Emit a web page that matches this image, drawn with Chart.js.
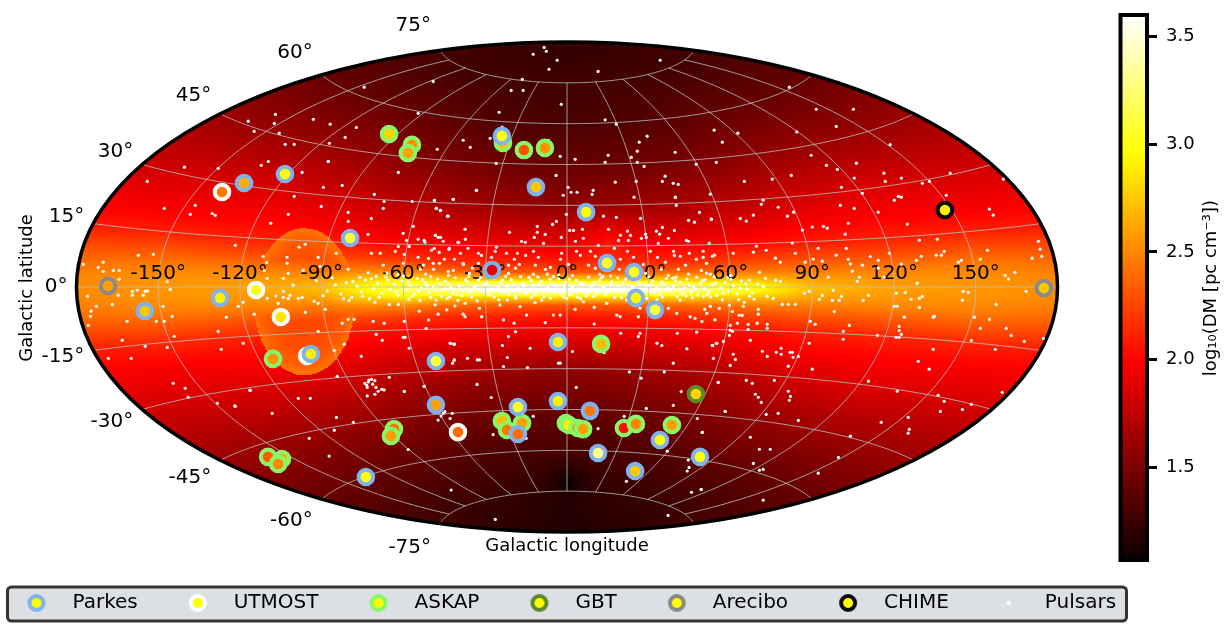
<!DOCTYPE html>
<html>
<head>
  <meta charset="UTF-8" />
  <title>FRB sky map</title>
  <script src="https://cdn.jsdelivr.net/npm/chart.js"></script>
  <style>
    html, body { margin: 0; background: #fff; }
    canvas { display: block; }
  </style>
</head>
<body>
  <canvas id="sky" width="1230" height="628"></canvas>
  <script>
    // positions are in the projected (Aitoff) plane, degrees; third value is log10(DM)
    const parkes = [[-118.5,38.2,2.65],[-103.5,41.5,2.95],[-79.6,18,3.1],[-127.3,-4,2.9],[-154.9,-8.8,2.75],[-94,-24.6,2.9],[-48.1,-27.2,3.1],[-48.1,-43.3,2.6],[-27.5,6.2,1.9],[-11.4,36.7,2.75],[7,27.5,2.95],[14.7,8.8,3.05],[24.6,5.5,3],[25.3,-4,2.93],[32.3,-8.4,3.1],[-3.3,-20.2,2.9],[-23.9,55.5,2.98],[-18,-44.1,3.05],[-3.3,-41.9,2.9],[8.4,-45.5,2.45],[-18,-54,2.4],[11.4,-61,3.3],[34.1,-56.2,3],[48.8,-62.4,2.98],[25,-67.6,2.75],[-73.8,-69.8,3]];
    const utmost = [[-126.6,34.9,2.45],[-114.1,-1.1,3],[-105,-11,2.85],[-95.4,-25.3,3.2],[-40,-53.3,2.4]];
    const askap = [[-65.3,56.2,2.8],[-56.9,52.2,2.55],[-58.4,49.2,2.6],[-23.5,52.9,2.7],[-15.8,50.3,2.3],[-8.1,51.1,2.55],[-107.9,-26.4,2.55],[12.5,-20.9,2.7],[-63.5,-52.2,2.4],[-64.6,-54.7,2.6],[-109.7,-62.4,2.35],[-104.6,-63.2,2.65],[-106,-65,2.5],[-23.9,-49.2,2.7],[-22,-52.5,2.45],[-16.5,-50,2.6],[-0.4,-50,2.8],[0.7,-50.7,2.9],[4,-51.8,2.5],[5.9,-52.2,2.6],[20.9,-51.8,2.05],[25.3,-50.3,2.5],[38.5,-50.7,2.6]];
    const gbt = [[47.3,-39.3,2.8]];
    const arecibo = [[-168.4,0.4,2.6],[175,-0.4,2.75]];
    const chime = [[138.7,28.3,2.9]];
    const pulsars = [
      [81.6,73.4],[91.5,65.3],[105.1,65.3],[98.8,59],[54,57.6],[62.7,56.5],[84.3,57],[57,53.2],[118.6,52.3],[89.6,48.4],[54.8,45.8],[95.2,44.7],[99.2,43.2],[106.2,45.5],[116.3,41.8],[140.6,41.8],[160.1,39.6],[82.3,41],[75.3,39.6],[65.1,38.8],[105.4,40],[116.8,38.8],[122.7,40],[130.4,38.1],[133,38.8],[100.7,36.6],[108.4,34.4],[52.6,34.1],[139.2,33.7],[121.6,33.3],[122.7,33],[120.1,31.9],[72,31.9],[71.3,30.4],[100.3,30],[105.4,28.9],[77.5,29.3],[114.2,27.5],[155,28.6],[156.4,26.4],[83.1,27.5],[80.9,26],[68.4,26.4],[63.6,25.2],[65.8,24.2],[53,24.9],[103.2,23.4],[124.9,23.1],[90,22],[94.1,22.3],[95.5,21.6],[86.4,20.9],[102.1,19.4],[129.3,17.2],[135.9,17.5],[52.2,16.1],[82.7,16.1],[173,16.8],[173.6,13.9],[69.5,15],[92.2,14.2],[102.5,14.2],[154.3,13.5],[68.4,12.8],[73.1,13.5],[83.8,12.4],[118.3,12.4],[138.4,13.1],[135.5,11.7],[137.4,11.7],[130,11.3],[151.7,10.2],[170.7,10.6],[174.2,11.3],[54.1,11.7],[61,12.4],[50,10.9],[76.5,10.6],[90.4,10.2],[98.8,11.7],[111.3,11.2],[128.2,9.8],[144.7,9.8],[143.6,9.1],[93.7,9.5],[103.2,10.2],[78.3,9.1],[87.4,9.1],[114.2,9.8],[122.7,8.4],[108.4,8],[104.7,5.8],[164.4,5.4],[160.8,4.3],[162,2.9],[95.9,3.6],[104,8.5],[114.2,6.9],[76.5,2.5],[78.3,2.1],[72.8,3.2],[70.6,5.4],[66.9,2.5],[107.3,3.6],[106.5,2.1],[116.4,3.6],[128.5,1.4],[51.2,5.1],[50.6,2.6],[72,0.2],
      [168.5,-1.6],[157.5,-6.4],[145.4,-1.6],[147.3,-2],[145.1,-4.9],[129.3,-4.2],[129.3,-7.5],[130.4,-3.4],[126.3,-4.5],[124.1,-2],[120.8,-2.3],[120.1,-7.1],[121.2,-7.1],[123.8,-11.1],[134.8,-10.8],[134.4,-11.1],[149.5,-11.1],[155,-11.9],[151.7,-15.2],[161.2,-15.2],[163,-17.8],[167.8,-20],[174.8,-18.9],[157.2,-22.9],[148.4,-19.6],[134.4,-22.9],[128.9,-27.3],[132.9,-30.2],[121.9,-14.5],[121.9,-16],[122.7,-17.4],[120.8,-18.5],[121.9,-18.5],[113.9,-17.8],[103.6,-14.1],[101.4,-16.3],[101.4,-19.2],[98.1,-9],[108.7,-4.9],[110.6,-3.1],[97.7,-1.2],[100.7,-3.4],[99.9,-4.9],[97.4,-4.9],[92.6,-4.5],[93.7,-3.1],[88.9,-1.6],[87.1,-2.3],[91.1,-13.7],[89.3,-12.6],[88.9,-20.7],[79,-6.4],[81.2,-6.4],[83.8,-6.4],[75.7,-4.2],[73.5,-3.4],[68.7,-4.5],[70.2,-8.2],[70.2,-10],[64.7,-7.1],[65.1,-5.6],[63.2,-10.4],[64.3,-10.4],[60.7,-9],[55.9,-7.8],[52.6,-7.1],[50.5,-8.2],[59.6,-6.7],[62.5,-13.3],[59.9,-14.1],[66.5,-13.7],[69.8,-13.3],[73.5,-13.7],[73.5,-15.2],[66.5,-15.6],[59.9,-15.9],[60.7,-16.3],[59.6,-17.8],[67.3,-19.6],[57.4,-20],[54.8,-20.7],[53.3,-21.4],[71.7,-23.6],[78.6,-22.5],[76.8,-24],[78.6,-24.7],[81.9,-24],[82.7,-24],[73.5,-25.5],[83,-25.8],[84.9,-25.5],[61,-24.7],[61.8,-26.6],[53.7,-26.2],[81.2,-29.1],[90,-30.2],[59.9,-28.8],[76.1,-34.3],[65.8,-34.3],[68,-35.4],[55.5,-35],[110.6,-34.6],[121.2,-38.3],[136.2,-39.8],[138.4,-42],[148.4,-43.1],[159.7,-38.7],[145.1,-45],[137,-45.7],[69.1,-39.4],[70.2,-40.5],[71.3,-42.4],[81.2,-38.3],[82,-40.2],[81.6,-41.6],[58.1,-45.7],[73.1,-46.8],[77.5,-46.4],[84.9,-49],[115.3,-49.7],[125.2,-47.9],[125.6,-52.3],[125.2,-53.7],[104,-54.8],[49.7,-53.4],[67.3,-55.2],[70.6,-59.6],[74.6,-59.6],[99.6,-62.6],[68.4,-64.8],[72,-67],[70.6,-67.3],[92.2,-68.4],[49.3,-74.3],[72,-78.3],
      [-140.4,44],[-112.2,44.7],[-109.6,46.1],[-87.6,46.1],[-154,38.8],[-128,43.6],[-97.2,42.1],[-61.9,42.1],[-89.4,36.6],[-82.5,37.3],[-100.1,33.3],[-70.7,34],[-67.1,31.4],[-56.8,31.4],[-48.7,31.8],[-41.8,32.2],[-136.4,30],[-147.8,28.9],[-138.2,26.7],[-130.2,27],[-129.1,26.3],[-102.3,26.7],[-90.2,29.6],[-80.3,27.4],[-67.4,28.9],[-48,28.9],[-46.5,28.1],[-71.8,25.2],[-108.7,23.4],[-80.3,24.1],[-56.4,22.3],[-43.6,26],[-37.4,21.2],[-60.1,19.7],[-73,19.3],[-48.3,19],[-54.6,17.5],[-47.3,18.2],[-52.4,17.1],[-45.4,16.8],[-40,16.4],[-58.9,17.1],[-121.7,15.3],[-61.9,14.9],[-57.9,14.9],[-48.7,14.2],[-43.2,14.2],[-36.3,14.2],[-98.3,14.6],[-96.1,15.7],[-71.8,12.4],[-68.5,12.4],[-63,13.1],[-59.7,12],[-54.6,10.9],[-84.7,12.4],[-111.5,11.3],[-102.7,10.9],[-157.3,11.6],[-151.8,12],[-91.3,10.9],[-177.5,8.3],[-170.2,9.1],[-172,7.2],[-166.5,6.1],[-170.2,5.7],[-164.3,6.1],[-164.3,2.8],[-146.7,2],[-110.2,9],[-102.7,8.7],[-111.1,6.1],[-110,3.2],[-104.1,3.2],[-102.3,5],[-96.8,6.1],[-90.6,7.6],[-80.3,6.5],[-67.4,8],[-60.1,8.7],[-49.1,8.7],[-38.1,8.7],[-53.8,6.5],[-43.6,5.7],
      [-176,-3.4],[-174.6,-8.9],[-174.9,-10.8],[-172.7,-7.1],[-175.7,-14.1],[-164.7,-3],[-166.9,-6.4],[-159.5,-1.6],[-159.5,-3],[-157.7,-1.2],[-155.5,-3],[-154.8,-1.6],[-154,-1.5],[-145.6,-0.9],[-148.2,-7.1],[-144.9,-10.8],[-147.8,-12.6],[-150.7,-12.6],[-161.4,-12.6],[-163.2,-19.6],[-144.1,-18.1],[-154.8,-21.8],[-146.7,-22.2],[-168.3,-26.2],[-159.9,-26.2],[-128,-16.3],[-125,-11.1],[-120.6,-7.1],[-118.8,-5.6],[-114.8,-10],[-118.8,-20.7],[-126.9,-22.9],[-144.5,-35.4],[-140.1,-37.2],[-139,-40.5],[-116.2,-38],[-128.3,-42.7],[-121.7,-43.8],[-98.6,-40.9],[-94.2,-40.9],[-110,-4.2],[-106,-6],[-106.8,-3.3],[-104.1,-3.8],[-102.3,-4.2],[-101.6,-3.1],[-98.6,-4.2],[-97.2,-3.8],[-104.1,-1.6],[-100.5,0.7],[-96,-9.3],[-92.8,-5.3],[-91.3,-6],[-88.7,-8.2],[-91.3,-16.3],[-85.4,-23.3],[-81.7,-21],[-82.5,-13.3],[-80.3,-11.9],[-78.1,-11.9],[-75.5,-25.5],[-70,-17.4],[-67.8,-19.6],[-60.1,-18.5],[-59.4,-18.5],[-57.9,-22.5],[-71.1,-12.6],[-67.1,-13.3],[-59.7,-12.6],[-51.7,-15.2],[-42.9,-20.7],[-41.4,-21],[-41.4,-26.9],[-47.3,-10],[-54.2,-8.9],[-61.9,-6.4],[-65.2,-6.4],[-70.5,-5.6],[-38.1,-10],[-84.3,-32.8],[-59.7,-38.3],[-65.2,-33.2],[-52.4,-36.5],
      [-71.7,-33.9],[-70.5,-34.4],[-72.9,-34.9],[-73.5,-36.1],[-71.3,-35.7],[-73.3,-36.9],[-70.1,-36.9],[-69.3,-38.3],[-68,-37.6],[-67.1,-37.8],[-73.3,-40],[-70.5,-39.4],[-72.7,-34.2],[-74.2,-35.4],
      [-8.4,88],[-12.4,85.5],[-7.6,86.6],[-3.6,83.3],[34.2,83.3],[-6.6,80],[11.4,79.2],[-16.4,76.3],[-20.5,72.2],[-16.1,72.2],[-74.4,73.4],[-49.1,75.5],[-2.1,67.1],[-24.9,64.2],[-54.6,63.8],[-107,63.4],[-93.1,61.6],[-117,60.9],[-86.9,59.8],[-107.4,60.1],[-77.3,58.6],[-114.8,57.2],[-105.6,56.5],[-81.4,55],[-87.2,52.8],[-103.4,52.4],[-100.1,52.4],[-47.6,50.6],[-38.1,53.9],[-35.5,51.3],[-28.2,54.6],[-23.8,58.7],[-6.8,53.9],[-87.6,46.2],[-26,45.4],[-2.5,48],[3,46.9],[14,61.4],[18.1,59.8],[26.5,53.2],[29.4,55.4],[25.8,49.9],[15.1,48.4],[23.6,47.6],[39.7,49.5],[14,45.8],[25.8,45.8],[28.3,44.3],[47.4,45.1],[-4,41],[36,40.7],[35,38.8],[39,38.1],[40.8,37.7],[17.7,38.5],[25.4,38.8],[-33.3,35.5],[0.4,36.6],[1.5,34.8],[3.7,34.8],[9.6,35.5],[9.2,34],[-1.4,33.7],[24.6,33],[39.7,33],
      [-48.6,31.8],[-41.7,32.2],[-33.2,35.5],[39.8,32.9],[40.1,30],[13.4,26],[18.1,25.6],[27,25.2],[35,21.9],[44.6,24.5],[46.8,23.8],[48.6,27.4],[53,24.9],[-47.9,28.9],[-46.4,28.2],[-43.9,26],[-0.2,26.7],[-3.9,24.1],[-5.3,23],[-10.9,22.3],[-10.9,20.1],[-21.1,20.1],[-8,19.3],[1,20.8],[2.4,20.8],[5.7,21.2],[15.2,21.2],[22.2,20.5],[23.3,19],[19.6,19],[32.8,20.5],[34,19.4],[39.4,20.8],[3.1,16.8],[-2.1,18.2],[-16.7,16.8],[-15.3,16.4],[-8.6,16],[-12,18.2],[-39.8,16.4],[-37.3,17.5],[-48.3,19],[-46.4,18.2],[-52.1,16.4],[27.3,17.9],[28.8,19.4],[29.1,18.2],[37.2,17.9],[43.8,17.1],[44.6,16.8],[6,17.9],[11.5,15.3],[22.5,17.1],[18.9,17.1],[33.5,16],
      [-46.9,12.7],[-49.7,13.5],[-43.3,13.8],[-39.1,12.4],[-32.5,12.4],[-25.9,14.6],[-26.3,13.1],[-22.2,12.4],[-18.2,12.4],[-12.3,13.1],[-2,12.4],[3.5,13.1],[8.6,13.1],[17.4,14.2],[22.2,13.1],[30.6,13.1],[39.1,13.1],[44.9,12.4],[50,13.1],[-50.8,10.5],[-45,10.2],[-41.3,10.2],[-31.4,11.6],[-27.7,10.9],[-19.3,10.2],[-15.2,11.6],[-10.5,10.9],[-2.4,10.2],[4.9,11.6],[10.4,11.3],[19.6,10.2],[24.4,10.9],[33.2,10.9],[39.4,11.6],[41.6,11.3],[47.5,10.2],[53.4,11.3],[-52.7,8],[-46.8,8.7],[-38,8.3],[-32.5,8.7],[-21.5,8],[-17.5,8.3],[-11.6,8],[-6.1,7.2],[0.5,8.3],[7.9,8],[19.2,6.5],[28,8.3],[36.1,9.1],[43.5,8],[51.2,8.7],[-49,6.5],[-41.7,6.1],[-34.7,6.9],[-18.9,6.9],[-7.9,6.5],[10.4,6.9],[34.6,6.5],[40.9,6.5],[49.3,6.1],[-51.9,4.7],[-43.5,4.3],[-35.8,5],[-25.5,4.7],[-21.5,5],[-12.3,4.7],[-7.2,4.7],[7.9,3.6],[28.8,5],[37.2,4.3],[44.6,4.7],[52.6,4.7],
      [-48.4,-6.6],[-41.1,-7],[-37.4,-6],[-32.1,-7.8],[-24.6,-6.6],[-21.9,-4.8],[-17.2,-7.2],[-11.7,-5.7],[-5,-10.3],[3,-8.2],[10,-7.5],[18.3,-10.3],[26.2,-10.9],[34.2,-10.3],[40.3,-9.7],[47,-11.5],[51.3,-9.7],[54.3,-12.1],[-50.8,-12.1],[-44.1,-8.4],[-37.4,-10.9],[-31.3,-10.9],[-23.3,-12.1],[-19.4,-13.3],[-14.8,-10.3],[-8,-13.1],[-2.5,-10.3],[10,-13.6],[19.5,-10.9],[26.8,-7.8],[30.5,-6.6],[37.2,-7.8],[45.2,-10.9],[49.5,-12.7],[-9.3,-4.8],[-0.1,-4.2],[6,-5.4],[14.6,-6],[21.9,-4.8],[29.3,-4.2],[41.5,-4.8],[50,-3.5],
      [-21.5,-18.2],[-18.9,-16.4],[-23.7,-21.5],[-13.5,-22.5],[2,-23.7],[19.7,-17],[26.2,-18.2],[26.8,-17],[33,-20.7],[34.8,-21.5],[44,-22.7],[40.5,-17],[47.6,-16.6],[53.5,-21.5],[55,-20.7],[-42.6,-20.7],[-41.3,-21],[-36.5,-26.2],[-32.9,-26.8],[-32.1,-26.8],[-21.9,-25.9],[-23.3,-29.2],[-14.5,-29.6],[-3.1,-28],[-2.5,-28],[13.6,-24.1],[22.9,-31.2],[27.2,-33.5],[35.7,-31.2],[39,-28],[-42,-28],[-41.3,-26.8],
      [-116.4,-37.9],[-121.9,-43.7],[-108.2,-46.4],[-84.6,-47.9],[-78.4,-49.7],[-85.4,-52.6],[-94.6,-55.6],[-87.3,-62.1],[-58.3,-59.7],[-42.5,-74.6],[-26.3,-85.4],[37.1,-83.9],[45.7,-75.4],[49.2,-74.4],[21.8,-71.4],[44.1,-67.6],[44.8,-66.3],[44.5,-63.6],[36.8,-60.3],[49.6,-53.4],[47.8,-48.3],[39,-43.5],[41.9,-38.4],[29.1,-44.6],[21,-47.5],[11.4,-52],[-12.4,-47.5],[-27.1,-54.2],[-15,-55.6],[3.4,-36.9],[55.5,-35.1],[58,-45.7],[-27.8,-40.6],[-33,-35.8],[-52.4,-36.5],[-59.7,-38.4],[-46.2,-47.4],[-44.8,-45.8],[-42.1,-46.4],[-47.3,-48.9],[-42.9,-48.3],[-45.4,-46.4],
      [-88,-1.5],[-85,0.8],[-83,-2.6],[-81,1.6],[-79,-3.8],[-77,0.4],[-75.5,-1.8],[-74,2.6],[-72.5,-4.4],[-71,-0.6],[-69.5,1.4],[-68,-2.2],[-66.5,3.6],[-65,-0.9],[-63.5,1],[-62,-3.1],[-60.5,2.3],[-59,-1.2],[-57.5,0.7],[-56,-2.6],[-55,3.1],[-53.5,-0.5],[-52,1.7],[-50.5,-1.9],[-49,0.3],[-47.5,2.9],[-46,-3.4],[-45,-0.8],[-43.5,1.2],[-42,-2.1],[-41,3.4],[-39.5,0.5],[-38,-1.3],[-36.5,1.9],[-35,-3.7],[-34,-0.2],[-32.5,2.6],[-31,-1.6],[-30,0.9],[-28.5,-2.9],[-27,3.2],[-26,-0.7],[-24.5,1.5],[-23,-1.9],[-22,0.4],[-20.5,2.7],[-19,-3.2],[-18,-0.4],[-16.5,1.3],[-15,-2.4],[-14,3.6],[-12.5,0.6],[-11,-1.1],[-9.5,2.1],[-8.5,-3.5],[-7,-0.3],[-5.5,1.1],[-4.5,-2],[-3,3],[-1.5,-0.9],[-0.5,1.8],[1,-2.8],[2,0.2],[3.5,2.4],[4.5,-1.4],[6,0.8],[7,-3.3],[8.5,-0.6],[10,1.6],[11,-2.2],[12.5,3.3],[13.5,-0.1],[15,-1.7],[16.5,2],[17.5,-3.9],[19,0.5],[20,-1],[21.5,2.8],[22.5,-2.6],[24,0.1],[25,-0.8],[26.5,1.4],[27.5,-3],[29,0.7],[30.5,-1.5],[31.5,2.2],[33,-0.3],[34,-2.7],[35.5,1],[36.5,3.1],[38,-1.2],[39,0.4],[40.5,-3.6],[41.5,1.8],[43,-0.6],[44,2.9],[45.5,-1.8],[46.5,0.2],[48,-2.9],[49,1.3],[50.5,-0.7],[52,-1.9],[53.5,0.9],[55,-3.1],[56.5,-0.4],[58,1.6],[59.5,-1.4],[61,0.6],[62.5,-2.5],[64,2.3],[66,-0.8],[68,-2],[70,1.1],
      [-80,-5],[-76,3.5],[-73,5.2],[-70,3.9],[-66,5.1],[-62,4.6],[-58,-4.6],[-54,-5],[-50,3.8],[-48,-4.8],[-44,-4.2],[-40,-4.9],[-36,3.9],[-33,-5.1],[-29,4],[-25,-4.7],[-17,3.8],[-13,-3.9],[-6,-4.1],[-3,4.5],[2,4.2],[5,-4.3],[12,4.6],[16,4.1],[20,-3.9],[25,4],[33,-4.6],[40,3.6],[46,-4],[54,3.7],[57,-4.7],[60,4.2],[63,-4.6],[67,-3.4],
      [-58.2,1.9],[-54.4,-1.4],[-51.3,0.6],[-48.1,-1.1],[-44.7,2.2],[-42.6,-0.3],[-40.4,-2.8],[-37.2,2.7],[-35.6,-1.9],[-33.1,0.7],[-29.4,1.8],[-27.8,-1.2],[-25.2,0.3],[-23.6,2.4],[-21.3,-2.7],[-19.7,1],[-17.4,-1.6],[-15.8,0.4],[-13.2,2.5],[-11.7,-2.9],[-10.3,0.9],[-8.1,-1.4],[-6.2,2.8],[-4,0.6],[-2.2,-2.3],[-0.9,0.4],[0.8,2.9],[2.7,-1.1],[5.2,1.4],[7.7,-1.9],[9.3,0.5],[11.8,2.3],[14.2,-2.8],[15.9,0.9],[17.8,-0.9],[20.6,1.7],[23.2,-1.7],[25.8,2.6],[28.1,-1.1],[30,0.6],[32.2,-2.1],[34.8,1.9],[37.1,-0.5],[39.8,2.3],[42.3,-2.4],[44.8,0.7],[47.2,-0.9],[49.8,2.4],[51.4,-2.9],[54.6,1.5],[57.3,-2],[60.1,2.8],[63.4,-0.6],[65.6,1.2],[-92,2.3],[-89.5,-3.2],[-86.2,3.4],[-82,-4.3],[-78.6,2],[-75,-3.4],[-71.8,3.1],[-68.9,-3.7],[-65.7,2.5],[-62.8,-1.7],[-60,4],[-57,-3.4],[-53,2.7],[-50,-3.8],[-46.8,1.3],[-43,-3.6],[-38.6,-3.1],[-31.7,3.5],[-26.8,-3.7],[-22.6,3.9],[-18.8,-4.1],[-10.7,3.7],[-5,3.8],[-1.4,-3.6],[3.8,-3.8],[9.8,-3.5],[13.2,3.9],[18.6,3.4],[23.9,-3.4],[30,3.7],[35,-3.7],[38.8,3.2],[43.7,-3.3],[47.6,3.6],[52.7,-3.6],[58.9,3.4]
    ];

    // dispersion measure map: log10(DM) read on a lon/lat grid, rows north to south
    const heatLons = [-180,-150,-120,-90,-75,-60,-45,-30,-15,0,15,30,45,60,75,90,120,150,180];
    const heatLats = [90,75,60,45,30,20,15,10,6,3,1,0,-1,-3,-6,-10,-15,-20,-30,-45,-60,-71,-78,-90];
    const heatDM = [
      [1.22,1.22,1.22,1.22,1.22,1.22,1.22,1.22,1.22,1.22,1.22,1.22,1.22,1.22,1.22,1.22,1.22,1.22,1.22],
      [1.30,1.28,1.28,1.28,1.28,1.28,1.28,1.27,1.27,1.27,1.27,1.27,1.28,1.28,1.28,1.28,1.28,1.28,1.30],
      [1.42,1.42,1.42,1.40,1.38,1.36,1.34,1.33,1.32,1.32,1.32,1.33,1.34,1.36,1.38,1.40,1.42,1.42,1.42],
      [1.62,1.62,1.62,1.58,1.54,1.50,1.48,1.45,1.43,1.42,1.43,1.45,1.48,1.50,1.54,1.58,1.62,1.62,1.62],
      [1.82,1.85,1.87,1.82,1.75,1.72,1.66,1.63,1.60,1.58,1.62,1.63,1.66,1.72,1.75,1.82,1.87,1.85,1.82],
      [1.98,2.00,2.02,2.00,1.95,1.90,1.86,1.85,1.83,1.82,1.98,1.86,1.86,1.90,1.95,2.00,2.02,2.00,1.98],
      [2.08,2.13,2.12,2.10,2.05,2.02,2.00,1.97,1.95,1.93,2.10,1.98,2.00,2.02,2.05,2.10,2.12,2.13,2.08],
      [2.28,2.33,2.30,2.28,2.25,2.20,2.15,2.12,2.10,2.08,2.16,2.12,2.15,2.20,2.25,2.28,2.30,2.33,2.28],
      [2.42,2.48,2.48,2.45,2.50,2.50,2.40,2.36,2.33,2.32,2.33,2.36,2.38,2.42,2.45,2.45,2.48,2.48,2.42],
      [2.50,2.54,2.56,2.60,2.78,2.90,2.82,2.82,2.85,2.85,2.85,2.82,2.80,2.76,2.70,2.60,2.56,2.54,2.50],
      [2.52,2.56,2.58,2.68,2.92,3.12,3.25,3.45,3.52,3.55,3.52,3.45,3.25,3.05,2.88,2.68,2.58,2.56,2.52],
      [2.52,2.56,2.58,2.70,2.95,3.20,3.45,3.58,3.60,3.60,3.60,3.58,3.40,3.10,2.88,2.72,2.60,2.56,2.52],
      [2.52,2.56,2.58,2.68,2.92,3.12,3.25,3.45,3.52,3.55,3.52,3.45,3.25,3.05,2.88,2.68,2.58,2.56,2.52],
      [2.50,2.54,2.56,2.60,2.78,2.90,2.82,2.82,2.85,2.85,2.85,2.82,2.80,2.76,2.70,2.60,2.56,2.54,2.50],
      [2.42,2.48,2.48,2.45,2.50,2.50,2.40,2.36,2.33,2.32,2.33,2.36,2.38,2.42,2.45,2.45,2.48,2.48,2.42],
      [2.28,2.33,2.30,2.28,2.25,2.20,2.15,2.12,2.10,2.08,2.10,2.12,2.15,2.20,2.25,2.28,2.30,2.33,2.28],
      [2.08,2.13,2.12,2.10,2.05,2.02,2.00,1.97,1.95,1.95,1.95,1.97,2.00,2.02,2.05,2.10,2.12,2.13,2.08],
      [1.98,2.00,2.02,2.00,1.95,1.90,1.86,1.85,1.83,1.82,1.83,1.85,1.86,1.90,1.95,2.00,2.02,2.00,1.98],
      [1.82,1.85,1.87,1.82,1.75,1.70,1.66,1.62,1.60,1.58,1.60,1.62,1.66,1.70,1.75,1.82,1.87,1.85,1.82],
      [1.62,1.62,1.62,1.58,1.54,1.50,1.47,1.44,1.42,1.41,1.42,1.44,1.47,1.50,1.54,1.58,1.62,1.62,1.62],
      [1.42,1.42,1.40,1.38,1.36,1.34,1.32,1.31,1.30,1.30,1.30,1.31,1.32,1.34,1.36,1.38,1.40,1.42,1.42],
      [1.30,1.30,1.28,1.28,1.26,1.25,1.24,1.23,1.18,1.08,1.18,1.23,1.24,1.25,1.26,1.28,1.28,1.30,1.30],
      [1.26,1.24,1.22,1.22,1.21,1.20,1.20,1.19,1.18,1.16,1.18,1.19,1.20,1.20,1.21,1.22,1.22,1.24,1.26],
      [1.16,1.16,1.16,1.16,1.16,1.16,1.16,1.16,1.16,1.16,1.16,1.16,1.16,1.16,1.16,1.16,1.16,1.16,1.16]
    ];
    // the bright shell left of the plane: centre and half sizes in the projected plane, core and rim log10(DM)
    const shell = { x: -96.5, y: -4.8, rx: 18.5, ry: 27, core: 2.26, rim: 2.44 };

    const lonTicks = [-150,-120,-90,-60,-30,0,30,60,90,120,150];
    const latTicks = [-75,-60,-45,-30,-15,0,15,30,45,60,75];
    const cbTicks = [1.5,2,2.5,3,3.5];
    const cbMin = 1.07, cbMax = 3.6;

    const FONT = '"DejaVu Sans"';

    function aitoff(lon, lat) {
      const l = lon * Math.PI / 180, p = lat * Math.PI / 180;
      const a = Math.acos(Math.cos(p) * Math.cos(l / 2));
      const s = a < 1e-6 ? 1 : Math.sin(a) / a;
      return [2 * Math.cos(p) * Math.sin(l / 2) / s * 180 / Math.PI, Math.sin(p) / s * 180 / Math.PI];
    }

    function hotRGB(v) {
      const t = Math.min(1, Math.max(0, (v - cbMin) / (cbMax - cbMin)));
      return [
        255 * Math.min(1, 0.0416 + t / 0.365 * 0.9584),
        255 * Math.min(1, Math.max(0, (t - 0.365) / 0.381)),
        255 * Math.min(1, Math.max(0, (t - 0.746) / 0.254))
      ];
    }
    function hot(v) {
      const c = hotRGB(v);
      return 'rgb(' + Math.round(c[0]) + ',' + Math.round(c[1]) + ',' + Math.round(c[2]) + ')';
    }

    // where value v sits in a sorted list: [lower index, fraction]
    function locate(list, v, descending) {
      for (let i = 0; i < list.length - 1; i++) {
        const a = list[i], b = list[i + 1];
        if (descending ? v >= b : v <= b) return [i, (v - a) / (b - a)];
      }
      return [list.length - 2, 1];
    }

    let heatImage = null;
    function buildHeat(chart) {
      const sx = chart.scales.x, sy = chart.scales.y;
      const off = document.createElement('canvas');
      off.width = chart.width; off.height = chart.height;
      const octx = off.getContext('2d');
      const img = octx.createImageData(off.width, off.height);
      const put = (px, py, c) => {
        const k = (py * off.width + px) * 4;
        img.data[k] = c[0]; img.data[k + 1] = c[1]; img.data[k + 2] = c[2]; img.data[k + 3] = 255;
      };
      for (let lat = -90; lat <= 90; lat += 0.2) {
        const [j, fj] = locate(heatLats, lat, true);
        for (let lon = -180; lon <= 180; lon += 0.2) {
          const [i, fi] = locate(heatLons, lon, false);
          const top = heatDM[j][i] * (1 - fi) + heatDM[j][i + 1] * fi;
          const bot = heatDM[j + 1][i] * (1 - fi) + heatDM[j + 1][i + 1] * fi;
          let v = top * (1 - fj) + bot * fj;
          const [x, y] = aitoff(lon, lat);
          const d = Math.hypot((x - shell.x) / shell.rx, (y - shell.y) / shell.ry);
          if (d < 1) v = Math.max(v, shell.core + (shell.rim - shell.core) * d * d * d * d);
          const c = hotRGB(v);
          const px = Math.round(sx.getPixelForValue(x)), py = Math.round(sy.getPixelForValue(y));
          put(px, py, c); put(px + 1, py, c); put(px, py + 1, c); put(px + 1, py + 1, c);
        }
      }
      octx.putImageData(img, 0, 0);
      return off;
    }

    const skyPlugin = {
      id: 'sky',
      beforeDraw(chart) {
        // legend frame
        const ctx = chart.ctx;
        ctx.save();
        ctx.beginPath();
        ctx.roundRect(7.5, 587, 1119, 34, 4);
        ctx.fillStyle = '#dcdfe3';
        ctx.fill();
        ctx.lineWidth = 3;
        ctx.strokeStyle = '#333';
        ctx.stroke();
        ctx.restore();
      },
      afterLayout(chart) {
        chart.legend.left = -23.5;
        chart.legend.top = 585;
        chart.legend.bottom = 628;
      },
      beforeDatasetsDraw(chart) {
        const ctx = chart.ctx, sx = chart.scales.x, sy = chart.scales.y, cb = chart.scales.cb;
        const X = v => sx.getPixelForValue(v), Y = v => sy.getPixelForValue(v);
        const cx = X(0), cy = Y(0), rx = X(180) - cx, ry = cy - Y(90);
        if (!heatImage) heatImage = buildHeat(chart);

        ctx.save();
        ctx.beginPath();
        ctx.ellipse(cx, cy, rx, ry, 0, 0, Math.PI * 2);
        ctx.save();
        ctx.clip();
        ctx.drawImage(heatImage, 0, 0);

        // graticule
        ctx.strokeStyle = 'rgba(190,190,190,0.9)';
        ctx.lineWidth = 0.9;
        lonTicks.forEach(lon => {
          ctx.beginPath();
          for (let lat = -75; lat <= 75; lat += 1) {
            const p = aitoff(lon, lat);
            ctx.lineTo(X(p[0]), Y(p[1]));
          }
          ctx.stroke();
        });
        latTicks.forEach(lat => {
          ctx.beginPath();
          for (let lon = -180; lon <= 180; lon += 2) {
            const p = aitoff(lon, lat);
            ctx.lineTo(X(p[0]), Y(p[1]));
          }
          ctx.stroke();
        });
        ctx.restore();

        ctx.beginPath();
        ctx.ellipse(cx, cy, rx, ry, 0, 0, Math.PI * 2);
        ctx.lineWidth = 3.5;
        ctx.strokeStyle = '#000';
        ctx.stroke();

        // tick labels on the map
        ctx.fillStyle = '#000';
        ctx.font = '20px ' + FONT;
        ctx.textBaseline = 'middle';
        ctx.textAlign = 'center';
        lonTicks.forEach(lon => {
          const p = aitoff(lon, 0);
          ctx.fillText(lon + '°', X(p[0]), Y(p[1]) - 13);
        });
        ctx.textAlign = 'right';
        latTicks.forEach(lat => {
          const p = aitoff(-180, lat);
          ctx.fillText(lat + '°', X(p[0]) - 9, Y(p[1]) - 25 * Math.sin(lat * Math.PI / 180));
        });

        // axis titles
        ctx.textAlign = 'center';
        ctx.font = '18px ' + FONT;
        ctx.fillText('Galactic longitude', cx, 546);
        ctx.save();
        ctx.translate(27, 288);
        ctx.rotate(-Math.PI / 2);
        ctx.fillText('Galactic latitude', 0, 0);
        ctx.restore();

        // colour bar
        const left = 1120.5, right = cb.left;
        for (let py = Math.floor(cb.top); py < cb.bottom; py++) {
          ctx.fillStyle = hot(cb.getValueForPixel(py + 0.5));
          ctx.fillRect(left, py, right - left, 1);
        }
        ctx.strokeStyle = '#000';
        ctx.lineWidth = 4;
        ctx.strokeRect(left, cb.top, right - left, cb.bottom - cb.top);
        ctx.save();
        ctx.translate(1211, 288);
        ctx.rotate(-Math.PI / 2);
        ctx.fillStyle = '#000';
        ctx.font = '18px ' + FONT;
        ctx.fillText('log₁₀(DM [pc cm⁻³])', 0, 0);
        ctx.restore();
        ctx.restore();
      }
    };

    // legend icon: drawn wide so the text gap matches, marker sits right of centre
    function legendIcon(fill, ring, r, lw) {
      const c = document.createElement('canvas');
      c.width = 78; c.height = 26;
      const g = c.getContext('2d');
      g.beginPath();
      g.arc(52, 13, r, 0, Math.PI * 2);
      g.fillStyle = fill;
      g.fill();
      if (lw) { g.lineWidth = lw; g.strokeStyle = ring; g.stroke(); }
      return c;
    }

    function frbSet(label, rows, ring) {
      return {
        label: label,
        data: rows.map(r => ({ x: r[0], y: r[1] })),
        pointRadius: 7.3,
        pointHoverRadius: 7.3,
        pointBorderWidth: 4,
        pointBorderColor: ring,
        pointBackgroundColor: rows.map(r => hot(r[2])),
        ring: ring
      };
    }

    new Chart(document.getElementById('sky'), {
      type: 'scatter',
      data: {
        datasets: [
          frbSet('Parkes', parkes, '#7fb2ee'),
          frbSet('UTMOST', utmost, '#ffffff'),
          frbSet('ASKAP', askap, '#88f868'),
          frbSet('GBT', gbt, '#5a8a2a'),
          frbSet('Arecibo', arecibo, '#8a8a8a'),
          frbSet('CHIME', chime, '#0a0a0a'),
          {
            label: 'Pulsars',
            data: pulsars.map(p => ({ x: p[0], y: p[1] })),
            pointRadius: 1.6,
            pointBorderWidth: 0,
            pointBackgroundColor: '#ffffff'
          }
        ]
      },
      options: {
        responsive: false,
        animation: false,
        events: [],
        layout: { autoPadding: false, padding: { top: 15, bottom: 30, left: 0, right: 0 } },
        scales: {
          x: { type: 'linear', display: false, min: -208.07, max: 212.84 },
          y: { type: 'linear', display: false, min: -100.29, max: 99.92 },
          cb: {
            type: 'linear',
            axis: 'y',
            position: 'right',
            min: cbMin,
            max: cbMax,
            afterFit: s => { s.width = 83; s.paddingTop = 0; s.paddingBottom = 0; },
            afterBuildTicks: s => { s.ticks = cbTicks.map(v => ({ value: v })); },
            border: { display: false },
            grid: { drawOnChartArea: false, drawTicks: true, tickLength: 10, tickWidth: 3, tickColor: '#000' },
            ticks: {
              color: '#000',
              padding: 9,
              font: { family: FONT, size: 18 },
              callback: v => v.toFixed(1)
            }
          }
        },
        plugins: {
          tooltip: { enabled: false },
          title: { display: false },
          legend: {
            position: 'bottom',
            align: 'start',
            labels: {
              usePointStyle: true,
              pointStyleWidth: 78,
              padding: 8,
              color: '#000',
              font: { family: FONT, size: 20 },
              generateLabels: chart => chart.data.datasets.map((d, i) => ({
                text: d.label,
                datasetIndex: i,
                fontColor: '#000',
                pointStyle: d.ring ? legendIcon('#ffff00', d.ring, 7, 4) : legendIcon('#ffffff', '#fff', 2.2, 0)
              }))
            }
          }
        }
      },
      plugins: [skyPlugin]
    });
  </script>
</body>
</html>
